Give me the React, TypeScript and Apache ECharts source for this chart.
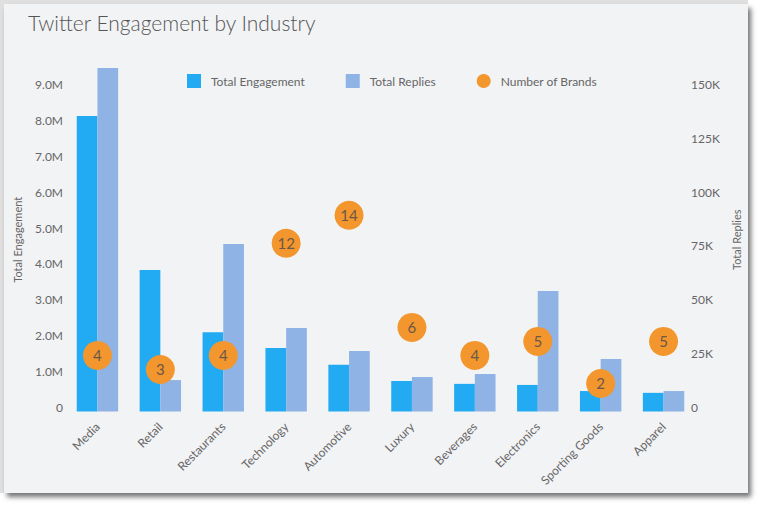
import React, { useEffect, useRef } from "react";
import * as echarts from "echarts";

const categories = ["Media", "Retail", "Restaurants", "Technology", "Automotive", "Luxury", "Beverages", "Electronics", "Sporting Goods", "Apparel"];
const totalEngagement = [8230000, 3940000, 2210000, 1770000, 1300000, 850000, 770000, 740000, 570000, 520000];
const totalReplies = [159500, 14600, 77800, 38800, 28100, 16000, 17400, 56000, 24400, 9500];
const numberOfBrands = [4, 3, 4, 12, 14, 6, 4, 5, 2, 5];
const legendNames = ["Total Engagement", "Total Replies", "Number of Brands"];

const FONT = "Lato, 'Open Sans', sans-serif";

export default function App() {
  const ref = useRef<HTMLDivElement>(null);
  useEffect(() => {
    if (!ref.current) return;
    const chart = echarts.init(ref.current, undefined, { renderer: "svg" });
    chart.setOption({
      animation: false,
      textStyle: { fontFamily: FONT },
      title: {
        text: "Twitter Engagement by Industry",
        left: 28,
        top: 12,
        padding: 0,
        textStyle: { fontFamily: FONT, fontSize: 21, fontWeight: 300, color: "#555" },
      },
      legend: {
        data: [
          { name: legendNames[0], icon: "rect" },
          { name: legendNames[1], icon: "rect" },
          { name: legendNames[2], icon: "circle" },
        ],
        left: 187,
        top: 74,
        padding: 0,
        itemWidth: 14,
        itemHeight: 14,
        itemGap: 41,
        textStyle: { fontFamily: FONT, fontSize: 12, color: "#666", padding: [0, 0, 0, 5] },
      },
      grid: { left: 66, right: 72, top: 68, bottom: 99.5, containLabel: false },
      xAxis: {
        type: "category",
        data: categories,
        axisLine: { show: false },
        axisTick: { show: false },
        axisLabel: { rotate: 45, margin: 13, fontSize: 12, color: "#666", fontFamily: FONT, interval: 0 },
      },
      yAxis: [
        {
          type: "value",
          name: "Total Engagement",
          nameLocation: "middle",
          nameGap: 43,
          nameTextStyle: { fontSize: 11, color: "#666", fontFamily: FONT },
          min: 0,
          max: 9570000,
          interval: 1000000,
          splitLine: { show: false },
          axisLine: { show: false },
          axisTick: { show: false },
          axisLabel: {
            showMaxLabel: false,
            margin: 3,
            fontSize: 12,
            color: "#666",
            fontFamily: FONT,
            verticalAlign: "bottom",
            lineHeight: 8,
            formatter: (v: number) => (v === 0 ? "0" : (v / 1e6).toFixed(1) + "M"),
          },
        },
        {
          type: "value",
          name: "Total Replies",
          nameLocation: "middle",
          nameGap: 25,
          nameTextStyle: { fontSize: 11, color: "#666", fontFamily: FONT },
          position: "right",
          min: 0,
          max: 159500,
          interval: 25000,
          splitLine: { show: false },
          axisLine: { show: false },
          axisTick: { show: false },
          axisLabel: {
            showMaxLabel: false,
            margin: -4,
            fontSize: 12,
            color: "#666",
            fontFamily: FONT,
            verticalAlign: "bottom",
            lineHeight: 8,
            formatter: (v: number) => (v === 0 ? "0" : v / 1000 + "K"),
          },
        },
        { type: "value", show: false, min: 0, max: 24.5, splitLine: { show: false } },
      ],
      series: [
        {
          name: legendNames[0],
          type: "bar",
          yAxisIndex: 0,
          data: totalEngagement,
          barWidth: 20.7,
          barGap: "0%",
          itemStyle: { color: "#22abf3" },
        },
        {
          name: legendNames[1],
          type: "bar",
          yAxisIndex: 1,
          data: totalReplies,
          barWidth: 20.7,
          barGap: "0%",
          itemStyle: { color: "#8fb3e4" },
        },
        {
          name: legendNames[2],
          type: "scatter",
          yAxisIndex: 2,
          data: numberOfBrands,
          symbolSize: 29,
          z: 5,
          itemStyle: { color: "#f2962d", opacity: 1 },
          label: {
            show: true,
            position: "inside",
            fontSize: 15,
            color: "#6b5847",
            fontFamily: FONT,
            formatter: (p: any) => String(p.value),
          },
        },
      ],
    });
    return () => chart.dispose();
  }, []);

  return (
    <div style={{ position: "fixed", left: 0, top: 0, width: 767, height: 511, background: "#fff", overflow: "hidden" }}>
      <div style={{ position: "absolute", left: 0, top: 0, width: 748, height: 493, background: "#dfe0df" }} />
      <div
        style={{
          position: "absolute",
          left: 4,
          top: 4,
          width: 744,
          height: 489,
          background: "#f2f3f5",
          boxShadow: "3px 4px 5px rgba(0,0,0,0.55)",
        }}
      />
      <div ref={ref} style={{ position: "absolute", left: 0, top: 0, width: 767, height: 511 }} />
    </div>
  );
}
